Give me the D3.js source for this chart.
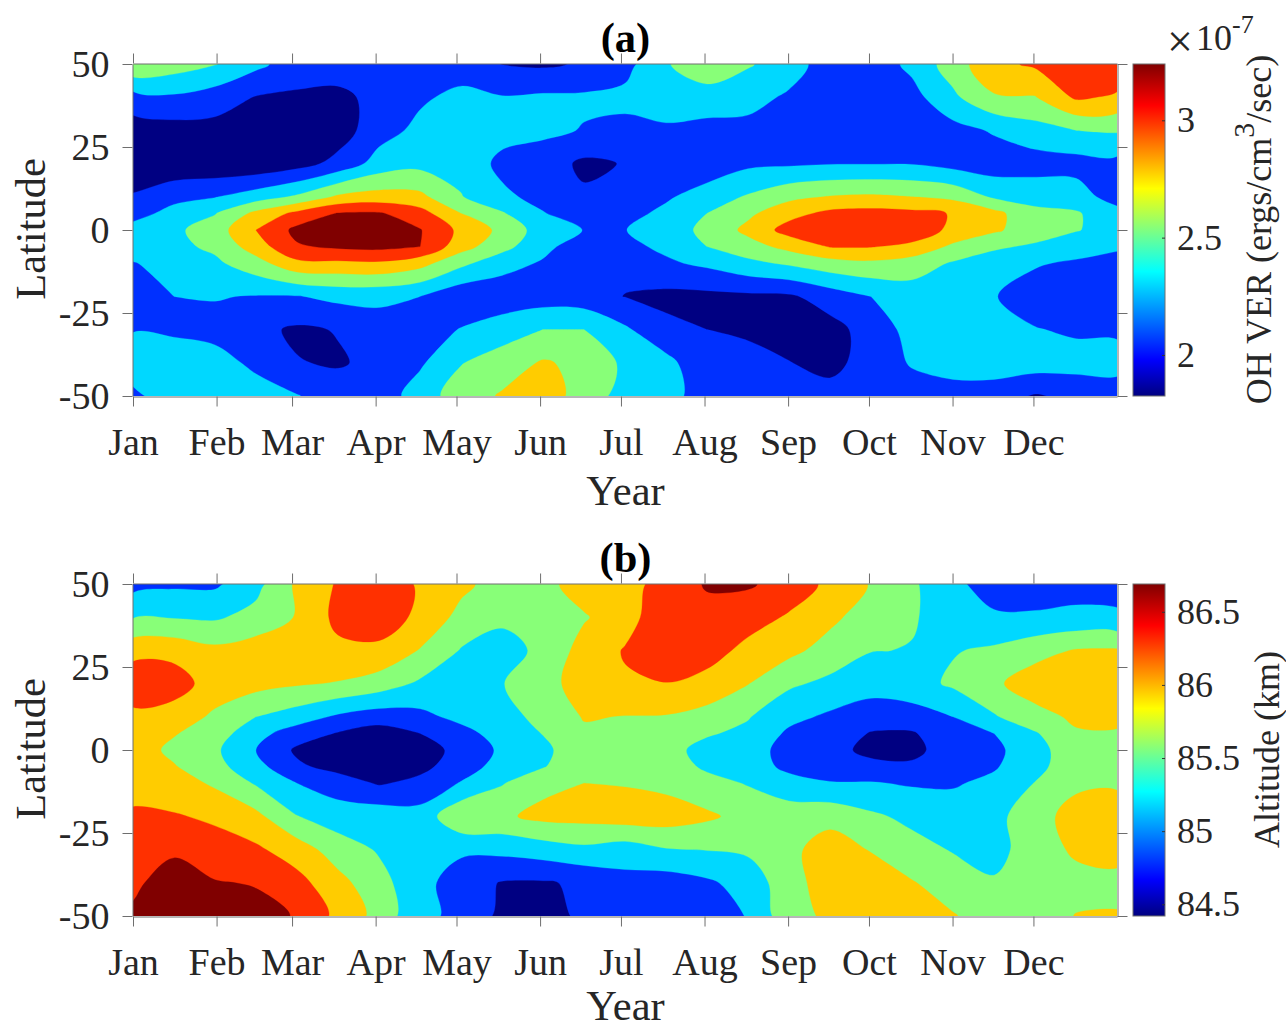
<!DOCTYPE html>
<html>
<head>
<meta charset="utf-8">
<script src="https://cdnjs.cloudflare.com/ajax/libs/d3/7.8.5/d3.min.js"></script>
<style>
html,body{margin:0;padding:0;background:#fff;}
svg{display:block;}
text{font-family:"Liberation Serif",serif;fill:#262626;}
</style>
</head>
<body>
<svg id="chart" width="1286" height="1029"></svg>
<script>
const monthLabels = ["Jan","Feb","Mar","Apr","May","Jun","Jul","Aug","Sep","Oct","Nov","Dec"];
const monthDays = [0,31,59,90,120,151,181,212,243,273,304,334];
const latTicks = [-50,-25,0,25,50];
const gridDays = [0,15.2,30.4,45.6,60.8,76,91.25,106.5,121.7,136.9,152.1,167.3,182.5,197.7,212.9,228.1,243.3,258.5,273.75,289,304.2,319.4,334.6,349.8,365];
const gridLats = [50,40,30,20,10,5,0,-5,-10,-20,-30,-40,-50];

// One inner list per time step, each running from 50 to -50 latitude
const ohVer = [
[2.58,2.12,1.9,1.85,2.02,2.12,2.28,2.29,2.19,2.1,2.19,2.3,2.16],
[2.5,2.17,1.92,1.85,2.14,2.27,2.36,2.35,2.27,2.2,2.17,2.3,2.3],
[2.41,2.1,1.93,1.85,2.19,2.39,2.5,2.44,2.36,2.21,2.14,2.27,2.32],
[2.25,1.99,1.9,1.85,2.3,2.65,2.8,2.7,2.52,2.19,2.05,2.16,2.28],
[2.1,1.97,1.88,1.92,2.43,2.85,3.05,2.98,2.75,2.19,1.97,2.01,2.21],
[2.1,1.95,1.9,2.06,2.63,3.01,3.1,3.03,2.76,2.25,2.01,1.98,2.1],
[2.1,2.06,2.12,2.28,2.68,3.02,3.2,3.05,2.77,2.25,2.1,2.05,2.08],
[2.08,2.17,2.25,2.34,2.65,2.88,3.01,3,2.67,2.2,2.1,2.17,2.3],
[2.1,2.25,2.3,2.33,2.41,2.6,2.75,2.68,2.45,2.05,2.21,2.39,2.5],
[1.995,2.21,2.27,2.15,2.24,2.42,2.55,2.47,2.27,2.08,2.3,2.5,2.62],
[1.97,2.23,2.24,2.1,2.14,2.21,2.3,2.25,2.18,2.1,2.4,2.62,2.72],
[2.02,2.23,2.19,1.96,2.03,2.1,2.195,2.1,2.04,2.08,2.4,2.55,2.5],
[2.13,2.25,2.15,2.01,2.05,2.13,2.195,2.15,2.05,1.995,2.23,2.36,2.33],
[2.38,2.3,2.17,2.05,2.17,2.25,2.3,2.24,2.17,1.95,2.05,2.26,2.3],
[2.55,2.3,2.14,2.06,2.3,2.4,2.45,2.4,2.24,1.95,2,2.05,2.07],
[2.42,2.27,2.14,2.16,2.42,2.56,2.65,2.52,2.35,1.96,1.98,2.04,2.07],
[2.3,2.17,2.1,2.17,2.55,2.73,2.88,2.66,2.43,1.97,1.93,2.005,2.1],
[2.09,2.05,2.05,2.19,2.61,2.85,2.93,2.81,2.52,2.09,1.93,1.95,2.06],
[2.08,2.06,2.05,2.19,2.63,2.87,2.93,2.81,2.56,2.2,2.08,2.07,2.08],
[2.25,2.13,2.07,2.19,2.6,2.85,2.93,2.75,2.5,2.3,2.27,2.22,2.1],
[2.5,2.36,2.13,2.13,2.55,2.79,2.75,2.56,2.38,2.28,2.27,2.25,2.15],
[2.75,2.58,2.22,2.09,2.37,2.66,2.63,2.43,2.3,2.21,2.27,2.3,2.1],
[2.83,2.59,2.32,2.11,2.33,2.45,2.5,2.37,2.22,2.1,2.21,2.3,1.98],
[2.95,2.83,2.4,2.12,2.3,2.42,2.41,2.3,2.17,2.05,2.17,2.28,2.05],
[2.95,2.77,2.42,2.14,2.1,2.28,2.33,2.24,2.1,2.05,2.17,2.27,2.1]
];
const altitude = [
[85,85.38,85.9,86.2,85.92,85.88,85.85,85.85,85.88,86.05,86.15,86.24,86.35],
[85.05,85.38,85.9,86.15,85.85,85.72,85.63,85.72,85.85,86.02,86.25,86.45,86.5],
[85.05,85.36,85.77,85.85,85.65,85.55,85.45,85.5,85.65,85.96,86.1,86.32,86.42],
[85.3,85.5,85.85,85.8,85.4,85.2,85.1,85.2,85.37,85.78,86.05,86.28,86.4],
[85.75,85.72,85.85,85.73,85.25,84.95,84.75,84.85,85.1,85.41,85.85,86.1,86.28],
[86.03,86.08,85.93,85.68,85.05,84.78,84.65,84.7,84.95,85.25,85.55,85.8,85.92],
[86.1,86.12,85.95,85.55,84.95,84.65,84.55,84.6,84.77,85.28,85.37,85.5,85.6],
[85.98,85.95,85.68,85.35,85.02,84.8,84.65,84.72,84.88,85.22,85.25,85.2,85.15],
[85.78,85.6,85.38,85.3,85.18,85,84.9,84.95,85.12,85.65,85.15,84.95,85.05],
[85.55,85.45,85.3,85.39,85.3,85.22,85.15,85.22,85.38,85.65,85.18,84.78,84.72],
[85.6,85.62,85.46,85.55,85.48,85.41,85.33,85.38,85.62,85.78,85.25,84.77,84.7],
[85.85,85.67,85.82,85.88,85.72,85.65,85.6,85.62,85.7,85.8,85.33,84.85,84.85],
[85.9,85.88,86.02,85.97,85.69,85.55,85.55,85.58,85.68,85.85,85.25,85,84.95],
[86.1,86.2,86.25,85.99,85.68,85.55,85.5,85.55,85.62,85.85,85.38,84.95,84.9],
[86.33,86.2,86.15,85.88,85.6,85.43,85.3,85.35,85.5,85.75,85.41,85.05,85],
[86.33,86.15,85.9,85.71,85.42,85.33,85.28,85.3,85.38,85.6,85.45,85.22,85.11],
[86.2,85.96,85.78,85.45,85.18,85.05,84.95,85,85.25,85.53,85.62,85.58,85.6],
[85.92,85.77,85.58,85.33,85.05,84.98,84.9,84.93,85.12,85.6,85.85,85.85,85.75],
[85.68,85.55,85.41,85.22,84.95,84.78,84.72,84.88,85.12,85.45,85.68,85.9,85.95],
[85.45,85.42,85.39,85.28,84.97,84.77,84.72,84.85,85.07,85.33,85.5,85.72,85.85],
[85.15,85.3,85.38,85.45,85.1,85,84.95,84.97,85.07,85.25,85.38,85.55,85.72],
[85,85.13,85.45,85.65,85.37,85.1,85.03,85.07,85.17,85.3,85.3,85.43,85.55],
[84.98,85.13,85.6,85.85,85.6,85.37,85.28,85.3,85.41,85.6,85.55,85.55,85.55],
[84.98,85.17,85.72,85.92,85.75,85.67,85.6,85.6,85.65,85.8,85.75,85.6,85.71],
[84.98,85.15,85.73,85.9,85.75,85.68,85.6,85.6,85.66,85.85,85.8,85.62,85.72]
];
const ohLevels = [2.0,2.2,2.4,2.6,2.8,3.0];
const altLevels = [84.8,85.1,85.4,85.7,86.0,86.3];
const ohDomain = [1.825,3.24];
const altDomain = [84.42,86.69];
const ohTicks = [2,2.5,3];
const altTicks = [84.5,85,85.5,86,86.5];
const bandColors = ["#000082","#0030ff","#00d8ff","#88ff78","#ffcc00","#ff3000","#800000"];
const jetStops = [[0,"#000080"],[0.11,"#0000ff"],[0.375,"#00ffff"],[0.5,"#80ff80"],[0.625,"#ffff00"],[0.875,"#ff0000"],[1,"#800000"]];

const svg = d3.select("#chart");
const W = {left:133,right:1117,cbL:1133,cbR:1165};
const AXIS = "#6e6e6e";
const defs = svg.append("defs");
const grad = defs.append("linearGradient").attr("id","jet").attr("x1",0).attr("x2",0).attr("y1",1).attr("y2",0);
jetStops.forEach(s=>grad.append("stop").attr("offset",s[0]).attr("stop-color",s[1]));

function panel(o){
  const top=o.top,bottom=o.top+332;
  const x=d3.scaleLinear().domain([0,365]).range([W.left,W.right]);
  const y=d3.scaleLinear().domain([-50,50]).range([bottom,top]);
  const iX=d3.scaleLinear().domain(d3.range(gridDays.length)).range(gridDays);
  const iY=d3.scaleLinear().domain(d3.range(gridLats.length)).range(gridLats);
  const edgeX=v=>v<0?gridDays[0]+v*(gridDays[1]-gridDays[0]):v>gridDays.length-1?365+(v-gridDays.length+1)*15:iX(v);
  const edgeY=v=>v<0?gridLats[0]-v*10:v>gridLats.length-1?-50-(v-gridLats.length+1)*10:iY(v);
  const n=gridDays.length,m=gridLats.length;
  const flat=[];
  for(let r=0;r<m;r++)for(let c=0;c<n;c++)flat.push(o.data[c][r]);
  const contours=d3.contours().size([n,m]).thresholds(o.levels)(flat);
  const clipId="clip"+o.id;
  defs.append("clipPath").attr("id",clipId).append("rect")
    .attr("x",W.left).attr("y",top).attr("width",W.right-W.left).attr("height",bottom-top);
  const g=svg.append("g").attr("clip-path",`url(#${clipId})`);
  g.append("rect").attr("x",W.left).attr("y",top).attr("width",W.right-W.left).attr("height",bottom-top).attr("fill",bandColors[0]);
  const ringLine=d3.line().curve(d3.curveCatmullRomClosed.alpha(0.5));
  const toPath=c=>c.coordinates.map(poly=>poly.map(ring=>
      ringLine(ring.slice(0,-1).map(p=>[x(edgeX(p[0]-0.5)),y(edgeY(p[1]-0.5))]))).join("")).join("");
  g.selectAll("path.band").data(contours).enter().append("path").attr("class","band")
    .attr("d",toPath).attr("fill",(d,i)=>bandColors[i+1]).attr("fill-rule","evenodd")
    .attr("stroke",(d,i)=>bandColors[i+1]).attr("stroke-width",0.3);

  const style=(sel,size)=>{sel.select(".domain").attr("stroke",AXIS);
    sel.selectAll(".tick line").attr("stroke",AXIS);
    sel.selectAll("text").attr("font-size",size).attr("fill","#262626").attr("font-family",'"Liberation Serif",serif');};
  const bot=svg.append("g").attr("transform",`translate(0,${bottom+0.5})`)
    .call(d3.axisBottom(x).tickValues(monthDays).tickFormat((d,i)=>monthLabels[i]).tickSize(10).tickSizeOuter(0).tickPadding(22));
  style(bot,38);
  const topA=svg.append("g").attr("transform",`translate(0,${top-0.5})`)
    .call(d3.axisTop(x).tickValues(monthDays).tickFormat("").tickSize(10).tickSizeOuter(0));
  style(topA,38);
  const lft=svg.append("g").attr("transform",`translate(${W.left-0.5},0)`)
    .call(d3.axisLeft(y).tickValues(latTicks).tickFormat(d=>String(d)).tickSize(10).tickSizeOuter(0).tickPadding(13));
  style(lft,38);
  const rgt=svg.append("g").attr("transform",`translate(${W.right+0.5},0)`)
    .call(d3.axisRight(y).tickValues(latTicks).tickFormat("").tickSize(10).tickSizeOuter(0));
  style(rgt,38);

  svg.append("text").attr("x",625.5).attr("y",top-12).attr("text-anchor","middle")
    .attr("font-size",42.5).attr("font-weight","bold").style("fill","#000").text(o.title);
  svg.append("text").attr("x",625.5).attr("y",Math.min(bottom+109,1020)).attr("text-anchor","middle")
    .attr("font-size",42.5).text("Year");
  svg.append("text").attr("transform",`translate(45,${(top+bottom)/2-1}) rotate(-90)`).attr("text-anchor","middle")
    .attr("font-size",42.5).text("Latitude");

  // colour bar
  const cb=d3.scaleLinear().domain(o.domain).range([bottom,top]);
  svg.append("rect").attr("x",W.cbL).attr("y",top).attr("width",W.cbR-W.cbL).attr("height",bottom-top)
    .attr("fill","url(#jet)").attr("stroke",AXIS).attr("stroke-width",1);
  const cbA=svg.append("g").attr("transform",`translate(${W.cbR},0)`)
    .call(d3.axisLeft(cb).tickValues(o.ticks).tickFormat("").tickSize(3).tickSizeOuter(0));
  cbA.select(".domain").remove();
  cbA.selectAll(".tick line").attr("stroke","#333");
  svg.selectAll(null).data(o.ticks).enter().append("text")
    .attr("x",1177).attr("y",d=>cb(d)+12).attr("font-size",36).text(d=>d);
  const lab=svg.append("text").attr("transform",`translate(${o.labelX},${(top+bottom)/2-0.5}) rotate(-90)`)
    .attr("text-anchor","middle").attr("font-size",36);
  o.label.forEach(t=>{
    const s=lab.append("tspan").text(t.text);
    if(t.sup){s.attr("font-size",30).attr("dy",-17);}
    if(t.back){s.attr("dy",17);}
  });
}

panel({id:"a",top:64,data:ohVer,levels:ohLevels,domain:ohDomain,ticks:ohTicks,title:"(a)",labelX:1271,
  label:[{text:"OH VER (ergs/cm"},{text:"3",sup:true},{text:"/sec)",back:true}]});
panel({id:"b",top:584,data:altitude,levels:altLevels,domain:altDomain,ticks:altTicks,title:"(b)",labelX:1279,
  label:[{text:"Altitude (km)"}]});

svg.append("text").attr("x",1167).attr("y",57).attr("font-size",46).text("×");
svg.append("text").attr("x",1196).attr("y",50).attr("font-size",36).text("10");
svg.append("text").attr("x",1232).attr("y",33).attr("font-size",26).text("-7");
</script>
</body>
</html>
